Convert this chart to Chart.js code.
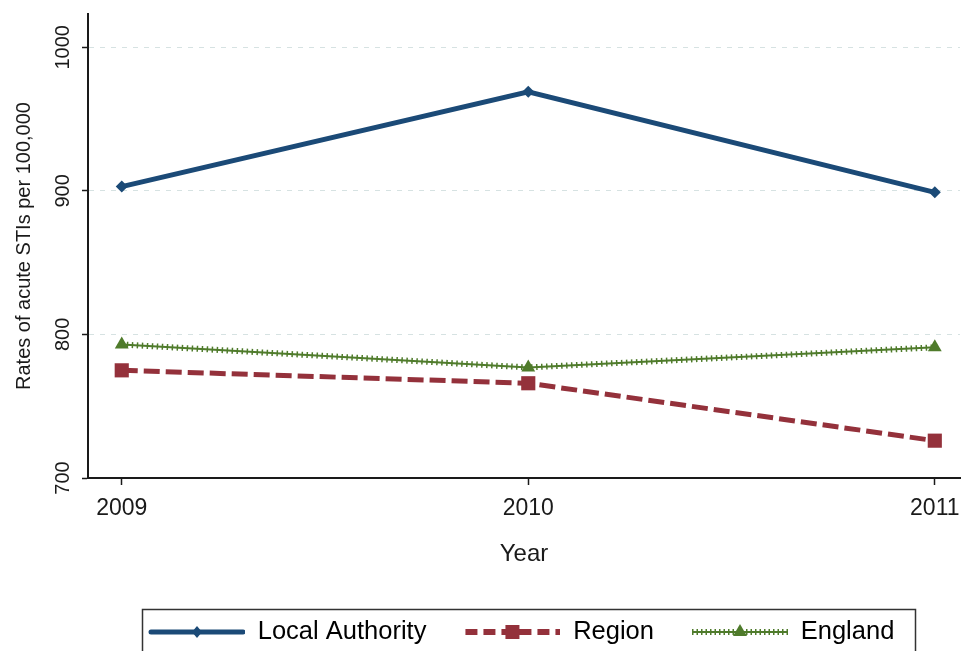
<!DOCTYPE html>
<html>
<head>
<meta charset="utf-8">
<script src="https://cdn.jsdelivr.net/npm/chart.js@4/dist/chart.umd.min.js"></script>
<style>
  html, body { margin: 0; padding: 0; background: #fff; }
</style>
</head>
<body>
<canvas id="chart" width="961" height="651"></canvas>
<script>
// ================= DATA =================
const years = [2009, 2010, 2011];
const localAuthority = [903, 969, 899];
const region = [775, 766, 726];
const england = [793, 777, 791];
const yTicks = [700, 800, 900, 1000];
const seriesLabels = ["Local Authority", "Region", "England"];

// ================= STYLE =================
const FONT = "'Liberation Sans', Arial, sans-serif";
const BLUE = "#1b4a77";
const RED = "#94313b";
const GREEN = "#4f7b2b";
const INK = "#1a1a1a";

const LEG_MARGIN = 26;   // blank space before each legend sample
const LEG_SAMPLE = 96;   // width of the drawn line sample
const LEG_PAD = 12;

function toPoints(values) {
    return years.map((yr, i) => ({ x: yr, y: values[i] }));
}

// small canvases used as legend symbols (line + marker)
function makeSample(kind) {
    const c = document.createElement("canvas");
    c.width = LEG_MARGIN + LEG_SAMPLE;
    c.height = 26;
    const g = c.getContext("2d");
    const x0 = LEG_MARGIN, x1 = LEG_MARGIN + LEG_SAMPLE, y = 13, mid = x0 + LEG_SAMPLE / 2;

    if (kind === "la") {
        g.strokeStyle = BLUE; g.lineWidth = 5; g.lineCap = "round";
        g.beginPath(); g.moveTo(x0 + 2, y); g.lineTo(x1 - 2, y); g.stroke();
        g.fillStyle = BLUE;
        g.beginPath(); g.moveTo(mid, y - 6); g.lineTo(mid + 5, y); g.lineTo(mid, y + 6); g.lineTo(mid - 5, y); g.fill();
    } else if (kind === "region") {
        g.strokeStyle = RED; g.lineWidth = 6; g.setLineDash([12, 6]);
        g.beginPath(); g.moveTo(x0 + 1, y); g.lineTo(x1, y); g.stroke();
        g.setLineDash([]);
        g.fillStyle = RED; g.fillRect(mid - 7, y - 7, 14, 14);
    } else {
        g.strokeStyle = GREEN; g.lineWidth = 2;
        g.beginPath(); g.moveTo(x0, y); g.lineTo(x1, y); g.stroke();
        g.lineWidth = 6; g.setLineDash([1.5, 3]);
        g.beginPath(); g.moveTo(x0, y); g.lineTo(x1, y); g.stroke();
        g.setLineDash([]);
        g.fillStyle = GREEN;
        g.beginPath(); g.moveTo(mid, y - 8); g.lineTo(mid + 7, y + 4); g.lineTo(mid - 7, y + 4); g.fill();
    }
    return c;
}

const samples = [makeSample("la"), makeSample("region"), makeSample("england")];

// ================= PLUGINS =================
const legendFrame = {
    id: "legendFrame",
    afterLayout(chart) {
        const lg = chart.legend;
        lg.left = 149 - LEG_PAD - LEG_MARGIN;
        lg.top = 632 - LEG_PAD - 12.75;
    },
    afterDraw(chart) {
        const ctx = chart.ctx;
        ctx.save();
        ctx.strokeStyle = "#333";
        ctx.lineWidth = 1.5;
        ctx.strokeRect(142.5, 609.5, 773, 60);
        ctx.restore();
    }
};

// ================= CHART =================
new Chart(document.getElementById("chart"), {
    type: "line",
    data: {
        datasets: [
            {
                label: seriesLabels[0],
                data: toPoints(localAuthority),
                borderColor: BLUE, backgroundColor: BLUE,
                borderWidth: 5,
                pointStyle: "rectRot", pointRadius: 6, pointBorderWidth: 0,
                tension: 0
            },
            {
                label: seriesLabels[1],
                data: toPoints(region),
                borderColor: RED, backgroundColor: RED,
                borderWidth: 5, borderDash: [16, 6],
                pointStyle: "rect", pointRadius: 10, pointBorderWidth: 0,
                tension: 0
            },
            {
                label: seriesLabels[2],
                data: toPoints(england),
                borderColor: GREEN, backgroundColor: GREEN,
                borderWidth: 2,
                pointStyle: "triangle", pointRadius: 8, pointBorderWidth: 0,
                tension: 0
            },
            {
                label: "england-bars",
                data: toPoints(england),
                borderColor: GREEN,
                borderWidth: 6, borderDash: [1.5, 3.5],
                pointRadius: 0,
                tension: 0
            }
        ]
    },
    options: {
        responsive: false,
        animation: false,
        layout: { autoPadding: false, padding: { left: 0, right: 1, top: 14, bottom: 0 } },
        plugins: {
            tooltip: { enabled: false },
            legend: {
                position: "bottom",
                align: "start",
                labels: {
                    usePointStyle: true,
                    pointStyleWidth: LEG_MARGIN + LEG_SAMPLE,
                    boxHeight: 26,
                    padding: LEG_PAD,
                    color: INK,
                    font: { family: FONT, size: 25.5 },
                    generateLabels: () => seriesLabels.map((t, i) => ({
                        text: t,
                        pointStyle: samples[i],
                        fillStyle: "transparent",
                        strokeStyle: "transparent",
                        lineWidth: 0,
                        hidden: false,
                        datasetIndex: i
                    }))
                }
            }
        },
        scales: {
            x: {
                type: "linear",
                min: 2008.917,
                max: 2011.062,
                afterBuildTicks: scale => { scale.ticks = years.map(v => ({ value: v })); },
                afterFit: scale => {
                    const lh = scale.chart.legend ? scale.chart.legend.height : 47;
                    scale.height = scale.chart.height - lh - 478;
                    scale.paddingLeft = 0;
                    scale.paddingRight = 0;
                },
                border: { color: INK, width: 2 },
                grid: { drawOnChartArea: false, drawTicks: true, tickLength: 7, tickColor: INK, tickWidth: 1.5 },
                ticks: {
                    color: INK, padding: 10,
                    font: { family: FONT, size: 23 },
                    callback: v => String(v)
                },
                title: {
                    display: true, text: "Year", color: INK,
                    font: { family: FONT, size: 24 },
                    padding: { top: 0, bottom: 35 }
                }
            },
            y: {
                min: 700,
                max: 1023.2,
                afterBuildTicks: scale => { scale.ticks = yTicks.map(v => ({ value: v })); },
                afterFit: scale => {
                    scale.width = 88;
                    scale.paddingTop = 0;
                    scale.paddingBottom = 0;
                },
                border: { color: INK, width: 2, dash: [5, 6] },
                grid: {
                    color: c => (c.tick && c.tick.value === 700) ? "rgba(0,0,0,0)" : "#d6e2e2",
                    lineWidth: 1,
                    drawTicks: true, tickLength: 6, tickColor: INK, tickWidth: 1.5, tickBorderDash: []
                },
                ticks: {
                    color: INK, padding: -4,
                    minRotation: 90, maxRotation: 90,
                    crossAlign: "center",
                    font: { family: FONT, size: 20 },
                    callback: v => String(v)
                },
                title: {
                    display: true, text: "Rates of acute STIs per 100,000", color: INK,
                    font: { family: FONT, size: 20 },
                    padding: { top: 12, bottom: 0 }
                }
            }
        }
    },
    plugins: [legendFrame]
});
</script>
</body>
</html>
